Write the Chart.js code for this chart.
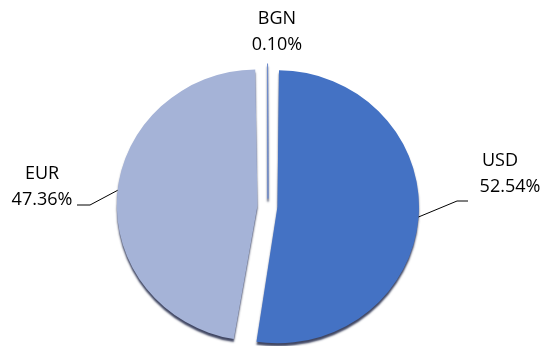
<!DOCTYPE html>
<html>
<head>
<meta charset="utf-8">
<script src="https://cdn.jsdelivr.net/npm/chart.js@4"></script>
<style>
  html, body { margin: 0; padding: 0; background: #fff; }
  #wrap { width: 544px; height: 346px; }
</style>
</head>
<body>
<div id="wrap"><canvas id="currencyChart" width="544" height="346"></canvas></div>
<script>
// ============================================
// CURRENCY SPLIT PIE
// ============================================
const currencies = ['USD', 'EUR', 'BGN'];
const shares = [52.54, 47.36, 0.10];
const sliceColors = ['#4472C4', '#A5B3D7', '#6F8CCB'];
const sliceOffsets = [38, 42, 31];
const sliceBorders = [0, 0, 1];   // keeps the tiny BGN wedge visible

const PIE_RADIUS = 132;  // arcs grow by part of their offset when exploded
const SQUASH = 0.965;    // slight vertical tilt of the pie
const LABEL_FONT = '18px "Open Sans", "Liberation Sans", sans-serif';

// rim: angle (deg, clockwise from 3 o'clock) where the leader leaves the slice
// elbow/end: leader bend and end, name/value: centres of the two label lines
const labelLayout = [
    { rim: 4.3, elbow: [457, 201], end: [468, 201], name: [500, 161], value: [510, 187] },
    { rim: 186.3, elbow: [90, 205], end: [77, 205], name: [42, 174], value: [42, 200] },
    { rim: null, name: [277, 19], value: [277, 45] }
];

function pieCentreY(chart) {
    return chart.getDatasetMeta(0).data[0].y;
}

// squash the pie a little and give it a dark rim along the bottom
const tiltPlugin = {
    id: 'tilt',
    beforeDatasetsDraw(chart) {
        const ctx = chart.ctx;
        const cy = pieCentreY(chart);
        ctx.save();
        ctx.translate(0, cy);
        ctx.scale(1, SQUASH);
        ctx.translate(0, -cy);
        ctx.shadowColor = 'rgba(30, 38, 70, 0.85)';
        ctx.shadowOffsetY = 3;
        ctx.shadowBlur = 2;
    },
    afterDatasetsDraw(chart) {
        chart.ctx.restore();
    }
};

// point on the outer edge of an exploded arc, after the squash
function rimPoint(arc, deg, cy) {
    const p = arc.getProps(['x', 'y', 'startAngle', 'endAngle', 'outerRadius', 'circumference'], true);
    const half = (p.startAngle + p.endAngle) / 2;
    const off = (arc.options.offset || 0) / 4;
    const fix = 1 - Math.sin(Math.min(Math.PI, p.circumference || 0));
    const r = p.outerRadius + off * fix;
    const a = deg * Math.PI / 180;
    const x = p.x + Math.cos(half) * off + Math.cos(a) * r;
    const y = p.y + Math.sin(half) * off + Math.sin(a) * r;
    return [x, cy + (y - cy) * SQUASH];
}

const sliceLabelPlugin = {
    id: 'sliceLabels',
    afterDraw(chart) {
        const ctx = chart.ctx;
        const arcs = chart.getDatasetMeta(0).data;
        const cy = pieCentreY(chart);
        ctx.save();
        ctx.strokeStyle = '#000';
        ctx.lineWidth = 1;
        ctx.fillStyle = '#000';
        ctx.font = LABEL_FONT;
        ctx.textAlign = 'center';
        ctx.textBaseline = 'middle';
        labelLayout.forEach((lay, i) => {
            if (lay.rim !== null) {
                const start = rimPoint(arcs[i], lay.rim, cy);
                ctx.beginPath();
                ctx.moveTo(start[0], start[1]);
                ctx.lineTo(lay.elbow[0], lay.elbow[1]);
                ctx.lineTo(lay.end[0], lay.end[1]);
                ctx.stroke();
            }
            ctx.fillText(currencies[i], lay.name[0], lay.name[1]);
            ctx.fillText(shares[i].toFixed(2) + '%', lay.value[0], lay.value[1]);
        });
        ctx.restore();
    }
};

new Chart(document.getElementById('currencyChart'), {
    type: 'pie',
    data: {
        labels: currencies,
        datasets: [{
            data: shares,
            backgroundColor: sliceColors,
            borderColor: sliceColors,
            borderWidth: sliceBorders,
            offset: sliceOffsets,
            clip: false
        }]
    },
    options: {
        responsive: false,
        animation: false,
        radius: PIE_RADIUS,
        layout: {
            padding: { left: 0, right: 8, top: 66, bottom: 0 }
        },
        plugins: {
            legend: { display: false },
            tooltip: { enabled: false }
        }
    },
    plugins: [tiltPlugin, sliceLabelPlugin]
});
</script>
</body>
</html>
